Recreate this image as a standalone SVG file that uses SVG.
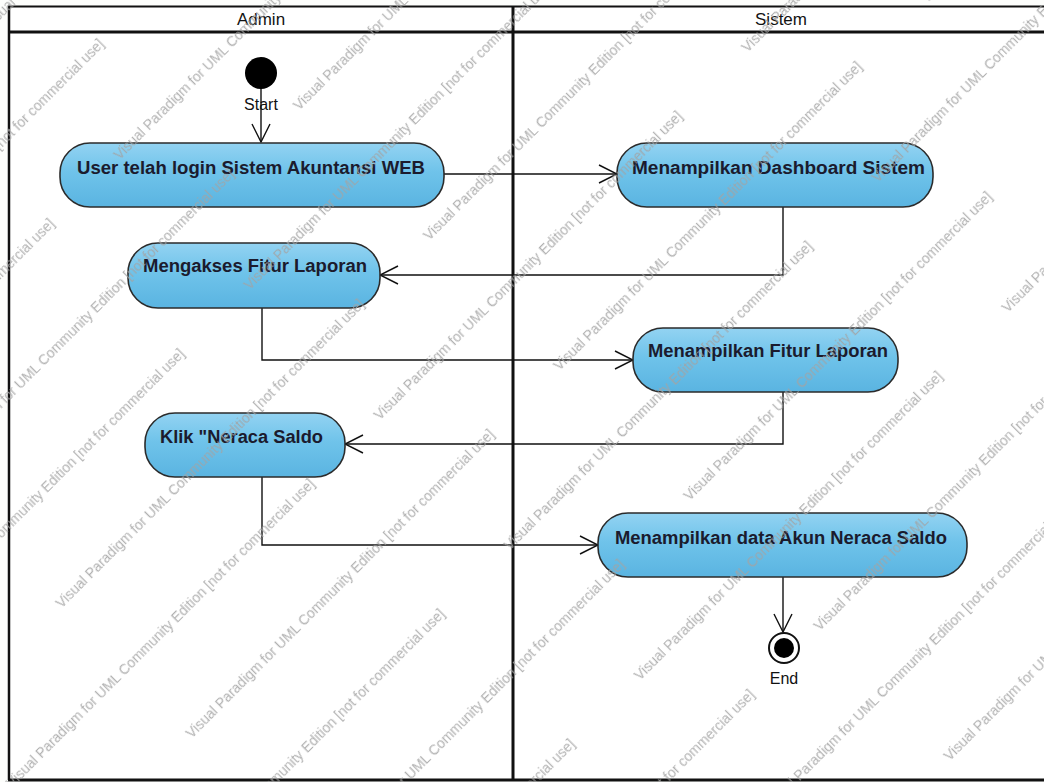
<svg xmlns="http://www.w3.org/2000/svg" width="1044" height="782" viewBox="0 0 1044 782">
<style>
.lane{fill:none;stroke:#111;}
.hdr{font-family:"Liberation Sans",Arial,sans-serif;font-size:17px;fill:#111;text-anchor:middle;}
.node rect{fill:url(#nodeFill);stroke:#2b2b2b;stroke-width:1.6;}
.lbl{font-family:"Liberation Sans",Arial,sans-serif;font-size:18px;font-weight:bold;fill:#1b1b2e;}
.small{font-family:"Liberation Sans",Arial,sans-serif;font-size:16px;fill:#111;text-anchor:middle;}
.conn{fill:none;stroke:#111;stroke-width:1.4;}
.wm{font-family:"Liberation Sans",Arial,sans-serif;font-size:14px;fill:#a3a3a3;}
</style>
<defs>
<linearGradient id="nodeFill" x1="0" y1="0" x2="0" y2="1">
<stop offset="0" stop-color="#93d3f2"/>
<stop offset="0.45" stop-color="#6fc3ea"/>
<stop offset="1" stop-color="#5ab4e1"/>
</linearGradient>
<marker id="arr" viewBox="0 0 20 20" refX="19" refY="10" markerWidth="20" markerHeight="20" markerUnits="userSpaceOnUse" orient="auto">
<path d="M1,1 L19,10 L1,19" fill="none" stroke="#111" stroke-width="1.4"/>
</marker>
<pattern id="wmPat" patternUnits="userSpaceOnUse" x="486" y="179" width="520" height="184" patternTransform="rotate(-45)">
<text class="wm" x="5" y="19">Visual Paradigm for UML Community Edition [not for commercial use]</text>
<text class="wm" x="-515" y="19">Visual Paradigm for UML Community Edition [not for commercial use]</text>
<text class="wm" x="167" y="111">Visual Paradigm for UML Community Edition [not for commercial use]</text>
<text class="wm" x="-353" y="111">Visual Paradigm for UML Community Edition [not for commercial use]</text>
</pattern>
</defs>

<rect x="0" y="0" width="1044" height="782" fill="#fdfefc"/>

<g id="swimlanes">
<rect x="8" y="6" width="1050" height="774" fill="#ffffff" stroke="none"/>
<line class="lane" x1="8" y1="6.5" x2="1044" y2="6.5" stroke-width="2"/>
<line class="lane" x1="8" y1="32" x2="1044" y2="32" stroke-width="3"/>
<line class="lane" x1="9" y1="6" x2="9" y2="780" stroke-width="2.5"/>
<line class="lane" x1="513" y1="6" x2="513" y2="780" stroke-width="3"/>
<line class="lane" x1="8" y1="780" x2="1044" y2="780" stroke-width="3"/>
<text class="hdr" x="261" y="25">Admin</text>
<text class="hdr" x="781" y="25">Sistem</text>
</g>

<g id="connectors">
<line class="conn" x1="261" y1="88" x2="261" y2="142" marker-end="url(#arr)"/>
<line class="conn" x1="444" y1="174" x2="617" y2="174" marker-end="url(#arr)"/>
<polyline class="conn" points="783,207 783,275 380,275" marker-end="url(#arr)"/>
<polyline class="conn" points="262,308 262,360 633,360" marker-end="url(#arr)"/>
<polyline class="conn" points="783,392 783,444 345,444" marker-end="url(#arr)"/>
<polyline class="conn" points="262,477 262,545 598,545" marker-end="url(#arr)"/>
<line class="conn" x1="783" y1="577" x2="783" y2="632" marker-end="url(#arr)"/>
</g>

<g id="start">
<circle cx="261" cy="73" r="16" fill="#000"/>
<text class="small" x="261" y="110">Start</text>
</g>

<g id="n1" class="node">
<rect x="60" y="143" width="384" height="64" rx="30" ry="30"/>
<text class="lbl" x="77" y="174" textLength="348" lengthAdjust="spacingAndGlyphs">User telah login Sistem Akuntansi WEB</text>
</g>

<g id="n2" class="node">
<rect x="617" y="143" width="316" height="64" rx="30" ry="30"/>
<text class="lbl" x="632" y="174" textLength="293" lengthAdjust="spacingAndGlyphs">Menampilkan Dashboard Sistem</text>
</g>

<g id="n3" class="node">
<rect x="128" y="243" width="252" height="65" rx="30" ry="30"/>
<text class="lbl" x="143" y="272" textLength="224" lengthAdjust="spacingAndGlyphs">Mengakses Fitur Laporan</text>
</g>

<g id="n4" class="node">
<rect x="633" y="328" width="265" height="64" rx="30" ry="30"/>
<text class="lbl" x="648" y="357" textLength="240" lengthAdjust="spacingAndGlyphs">Menampilkan Fitur Laporan</text>
</g>

<g id="n5" class="node">
<rect x="145" y="413" width="200" height="64" rx="30" ry="30"/>
<text class="lbl" x="160" y="443" textLength="163" lengthAdjust="spacingAndGlyphs">Klik "Neraca Saldo</text>
</g>

<g id="n6" class="node">
<rect x="598" y="513" width="369" height="64" rx="30" ry="30"/>
<text class="lbl" x="615" y="544" textLength="332" lengthAdjust="spacingAndGlyphs">Menampilkan data Akun Neraca Saldo</text>
</g>

<g id="end">
<circle cx="784" cy="648" r="15" fill="#fff" stroke="#111" stroke-width="2"/>
<circle cx="784" cy="648" r="10" fill="#000"/>
<text class="small" x="784" y="684">End</text>
</g>

<g id="watermark">
<rect x="0" y="0" width="1044" height="782" fill="url(#wmPat)" opacity="0.85"/>
</g>
</svg>
